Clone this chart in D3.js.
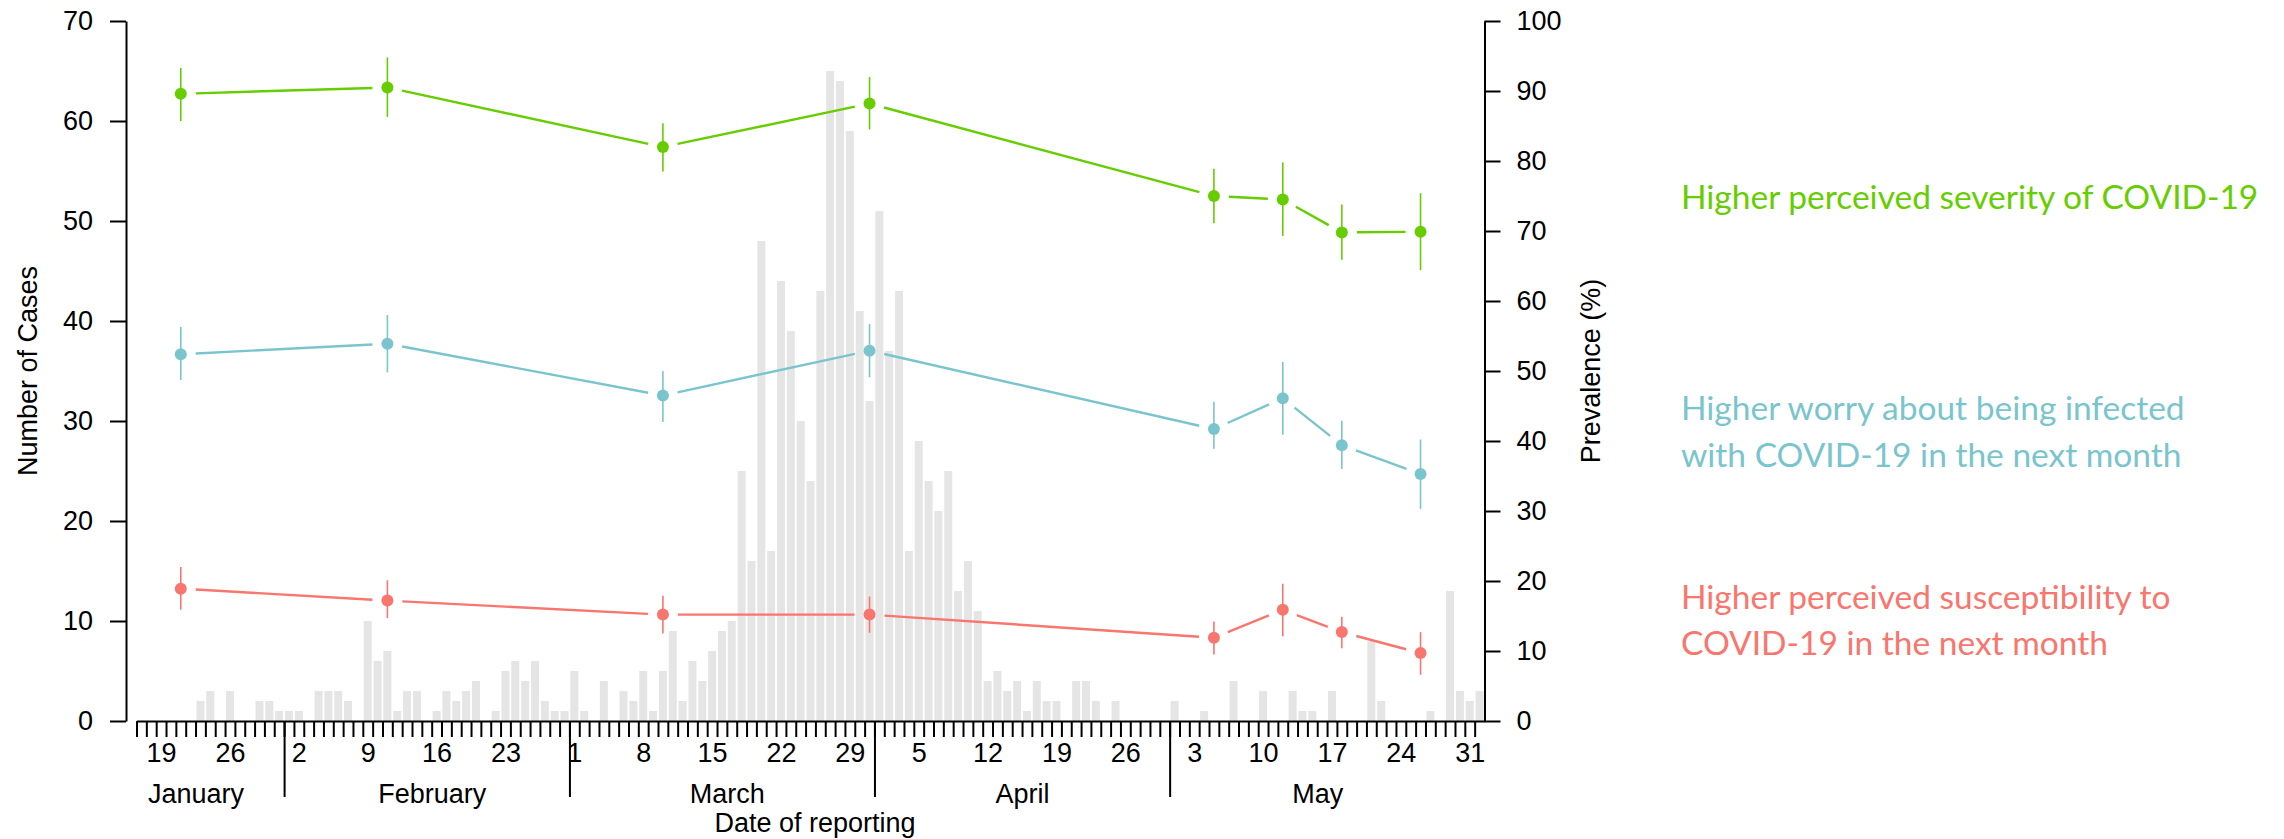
<!DOCTYPE html>
<html>
<head>
<meta charset="utf-8">
<script src="https://d3js.org/d3.v7.min.js"></script>
<style>
  body { margin: 0; background: #fff; }
  svg { display: block; }
  .axis text { font-family: "Liberation Sans", Arial, sans-serif; font-size: 27px; fill: #000; }
  .axis path, .axis line { stroke: #000; stroke-width: 2px; }
  .legend { font-family: Lato, sans-serif; font-size: 33.5px; }
</style>
</head>
<body>
<div id="chart"></div>
<script>
// daily reported cases, 17 Jan - 1 Jun 2020
var firstDay = "2020-01-17"
var dailyCases = [
  0,0,0,0,0,0,2,3,0,3,0,0,2,2,1,                                      // Jan 17-31
  1,1,0,3,3,3,2,0,10,6,7,1,3,3,0,1,3,2,3,4,0,1,5,6,4,6,2,1,1,         // Feb
  5,1,0,4,0,3,2,5,1,5,9,2,6,4,7,9,10,25,16,48,17,44,39,30,24,43,65,64,59,41,32, // Mar
  51,37,43,17,28,24,21,25,13,16,11,4,5,3,4,1,4,2,2,0,4,4,2,0,2,0,0,0,0,0,       // Apr
  2,0,0,1,0,0,4,0,0,3,0,0,3,1,1,0,3,0,0,0,8,2,0,0,0,0,1,0,13,3,2,     // May
  3                                                                    // Jun 1
]

// survey waves (prevalence %, with 95% CI)
var surveyDates = ["2020-01-21","2020-02-11","2020-03-10","2020-03-31","2020-05-05","2020-05-12","2020-05-18","2020-05-26"]
var severity   = [89.6, 90.5, 82.0, 88.2, 75.0, 74.5, 69.8, 69.9]
var severityLo = [85.7, 86.3, 78.5, 84.5, 71.1, 69.3, 65.9, 64.4]
var severityHi = [93.3, 94.8, 85.4, 92.0, 78.9, 79.8, 73.8, 75.4]
var worry      = [52.4, 53.9, 46.5, 52.9, 41.7, 46.1, 39.4, 35.3]
var worryLo    = [48.7, 49.8, 42.7, 49.1, 38.9, 40.9, 36.0, 30.3]
var worryHi    = [56.3, 58.0, 50.0, 56.7, 45.6, 51.3, 42.9, 40.2]
var suscept    = [18.9, 17.2, 15.2, 15.2, 11.9, 15.9, 12.7, 9.7]
var susceptLo  = [15.9, 14.7, 12.5, 12.6, 9.5, 12.1, 10.4, 6.6]
var susceptHi  = [22.0, 20.1, 17.9, 17.8, 14.2, 19.6, 14.9, 12.7]

var seriesNames = ["Higher perceived severity of COVID-19",
                   "Higher worry about being infected|with COVID-19 in the next month",
                   "Higher perceived susceptibility to|COVID-19 in the next month"]
var seriesColors = ["#66CD00", "#7AC5CD", "#F8766D"]

var caseTicks = [0,10,20,30,40,50,60,70]
var pctTicks = [0,10,20,30,40,50,60,70,80,90,100]
var dayLabelDates = ["2020-01-19","2020-01-26","2020-02-02","2020-02-09","2020-02-16","2020-02-23",
  "2020-03-01","2020-03-08","2020-03-15","2020-03-22","2020-03-29","2020-04-05","2020-04-12",
  "2020-04-19","2020-04-26","2020-05-03","2020-05-10","2020-05-17","2020-05-24","2020-05-31"]
var monthStarts = ["2020-02-01","2020-03-01","2020-04-01","2020-05-01"]
var monthNames = ["January","February","March","April","May"]
var monthLabelDates = ["2020-01-23","2020-02-16","2020-03-17","2020-04-16","2020-05-16"]

var W = 2284, H = 839
var parse = d3.utcParse("%Y-%m-%d")
var start = parse(firstDay)
var end = d3.utcDay.offset(start, dailyCases.length)
var mid = function(d){ return d3.utcHour.offset(d, 12) }

var svg = d3.select("#chart").append("svg")
  .attr("width", W).attr("height", H)

var x = d3.scaleUtc().domain([start, end]).range([136.5, 1484.5])
var yCases = d3.scaleLinear().domain([0, 70]).range([721, 21])
var yPct = d3.scaleLinear().domain([0, 100]).range([721, 21])

// bars
var barW = 8
svg.append("g").selectAll("rect")
  .data(dailyCases)
  .enter().append("rect")
  .attr("x", function(d, i){ return x(mid(d3.utcDay.offset(start, i))) - barW/2 })
  .attr("y", function(d){ return yCases(d) })
  .attr("width", barW)
  .attr("height", function(d){ return yCases(0) - yCases(d) })
  .attr("fill", "#E5E5E5")

// left axis
svg.append("g").attr("class", "axis")
  .attr("transform", "translate(126,0)")
  .call(d3.axisLeft(yCases).tickValues(caseTicks).tickSize(16).tickSizeOuter(0).tickPadding(17))

// right axis
svg.append("g").attr("class", "axis")
  .attr("transform", "translate(" + x.range()[1] + ",0)")
  .call(d3.axisRight(yPct).tickValues(pctTicks).tickSize(16).tickSizeOuter(0).tickPadding(16))

// x axis: one tick per day
svg.append("g").attr("class", "axis")
  .attr("transform", "translate(0,721)")
  .call(d3.axisBottom(x).tickValues(d3.utcDay.range(start, end)).tickSize(16).tickSizeOuter(0).tickFormat(""))

svg.append("g").attr("class", "axis")
  .attr("transform", "translate(0,721)")
  .call(d3.axisBottom(x).tickValues(dayLabelDates.map(function(d){ return mid(parse(d)) }))
    .tickSize(0).tickPadding(22).tickFormat(d3.utcFormat("%-d")))
  .call(function(g){ g.select(".domain").remove() })

svg.append("g").attr("class", "axis")
  .attr("transform", "translate(0,721)")
  .call(d3.axisBottom(x).tickValues(monthStarts.map(parse)).tickSize(76).tickFormat(""))
  .call(function(g){ g.select(".domain").remove() })

svg.append("g").attr("class", "axis")
  .attr("transform", "translate(0,721)")
  .call(d3.axisBottom(x).tickValues(monthLabelDates.map(parse)).tickSize(0).tickPadding(63)
    .tickFormat(function(d, i){ return monthNames[i] }))
  .call(function(g){ g.select(".domain").remove() })

// axis titles
var axisFont = "Liberation Sans, Arial, sans-serif"
svg.append("text")
  .attr("transform", "translate(28," + ((21+721)/2) + ") rotate(-90)")
  .attr("text-anchor", "middle").attr("dy", "0.35em")
  .style("font-family", axisFont).style("font-size", "27px")
  .text("Number of Cases")
svg.append("text")
  .attr("transform", "translate(1591," + ((21+721)/2) + ") rotate(-90)")
  .attr("text-anchor", "middle").attr("dy", "0.35em")
  .style("font-family", axisFont).style("font-size", "27px")
  .text("Prevalence (%)")
svg.append("text")
  .attr("x", 815).attr("y", 832)
  .attr("text-anchor", "middle")
  .style("font-family", axisFont).style("font-size", "27px")
  .text("Date of reporting")

// survey series
var allSeries = [
  {est: severity, lo: severityLo, hi: severityHi},
  {est: worry, lo: worryLo, hi: worryHi},
  {est: suscept, lo: susceptLo, hi: susceptHi}
]
var gap = 15

allSeries.forEach(function(s, k){
  var col = seriesColors[k]
  var pts = s.est.map(function(v, i){
    return {x: x(mid(parse(surveyDates[i]))), y: yPct(v), lo: yPct(s.lo[i]), hi: yPct(s.hi[i])}
  })
  var g = svg.append("g")

  // line segments stop short of the points
  var segs = d3.pairs(pts).map(function(p){
    var dx = p[1].x - p[0].x, dy = p[1].y - p[0].y
    var len = Math.sqrt(dx*dx + dy*dy)
    var ux = dx/len, uy = dy/len
    return [[p[0].x + ux*gap, p[0].y + uy*gap], [p[1].x - ux*gap, p[1].y - uy*gap]]
  })
  g.selectAll("path.seg").data(segs).enter().append("path")
    .attr("class", "seg")
    .attr("d", d3.line())
    .attr("stroke", col).attr("stroke-width", 2.4).attr("fill", "none")

  g.selectAll("line.ci").data(pts).enter().append("line")
    .attr("class", "ci")
    .attr("x1", function(d){ return d.x }).attr("x2", function(d){ return d.x })
    .attr("y1", function(d){ return d.hi }).attr("y2", function(d){ return d.lo })
    .attr("stroke", col).attr("stroke-width", 1.6)

  g.selectAll("circle").data(pts).enter().append("circle")
    .attr("cx", function(d){ return d.x }).attr("cy", function(d){ return d.y })
    .attr("r", 6).attr("fill", col)
})

// legend text
var legendBaselines = [[209], [420, 467], [609, 655]]
seriesNames.forEach(function(name, k){
  var t = svg.append("text").attr("class", "legend").attr("fill", seriesColors[k])
  name.split("|").forEach(function(line, j){
    t.append("tspan").attr("x", 1681).attr("y", legendBaselines[k][j]).text(line)
  })
})
</script>
</body>
</html>
